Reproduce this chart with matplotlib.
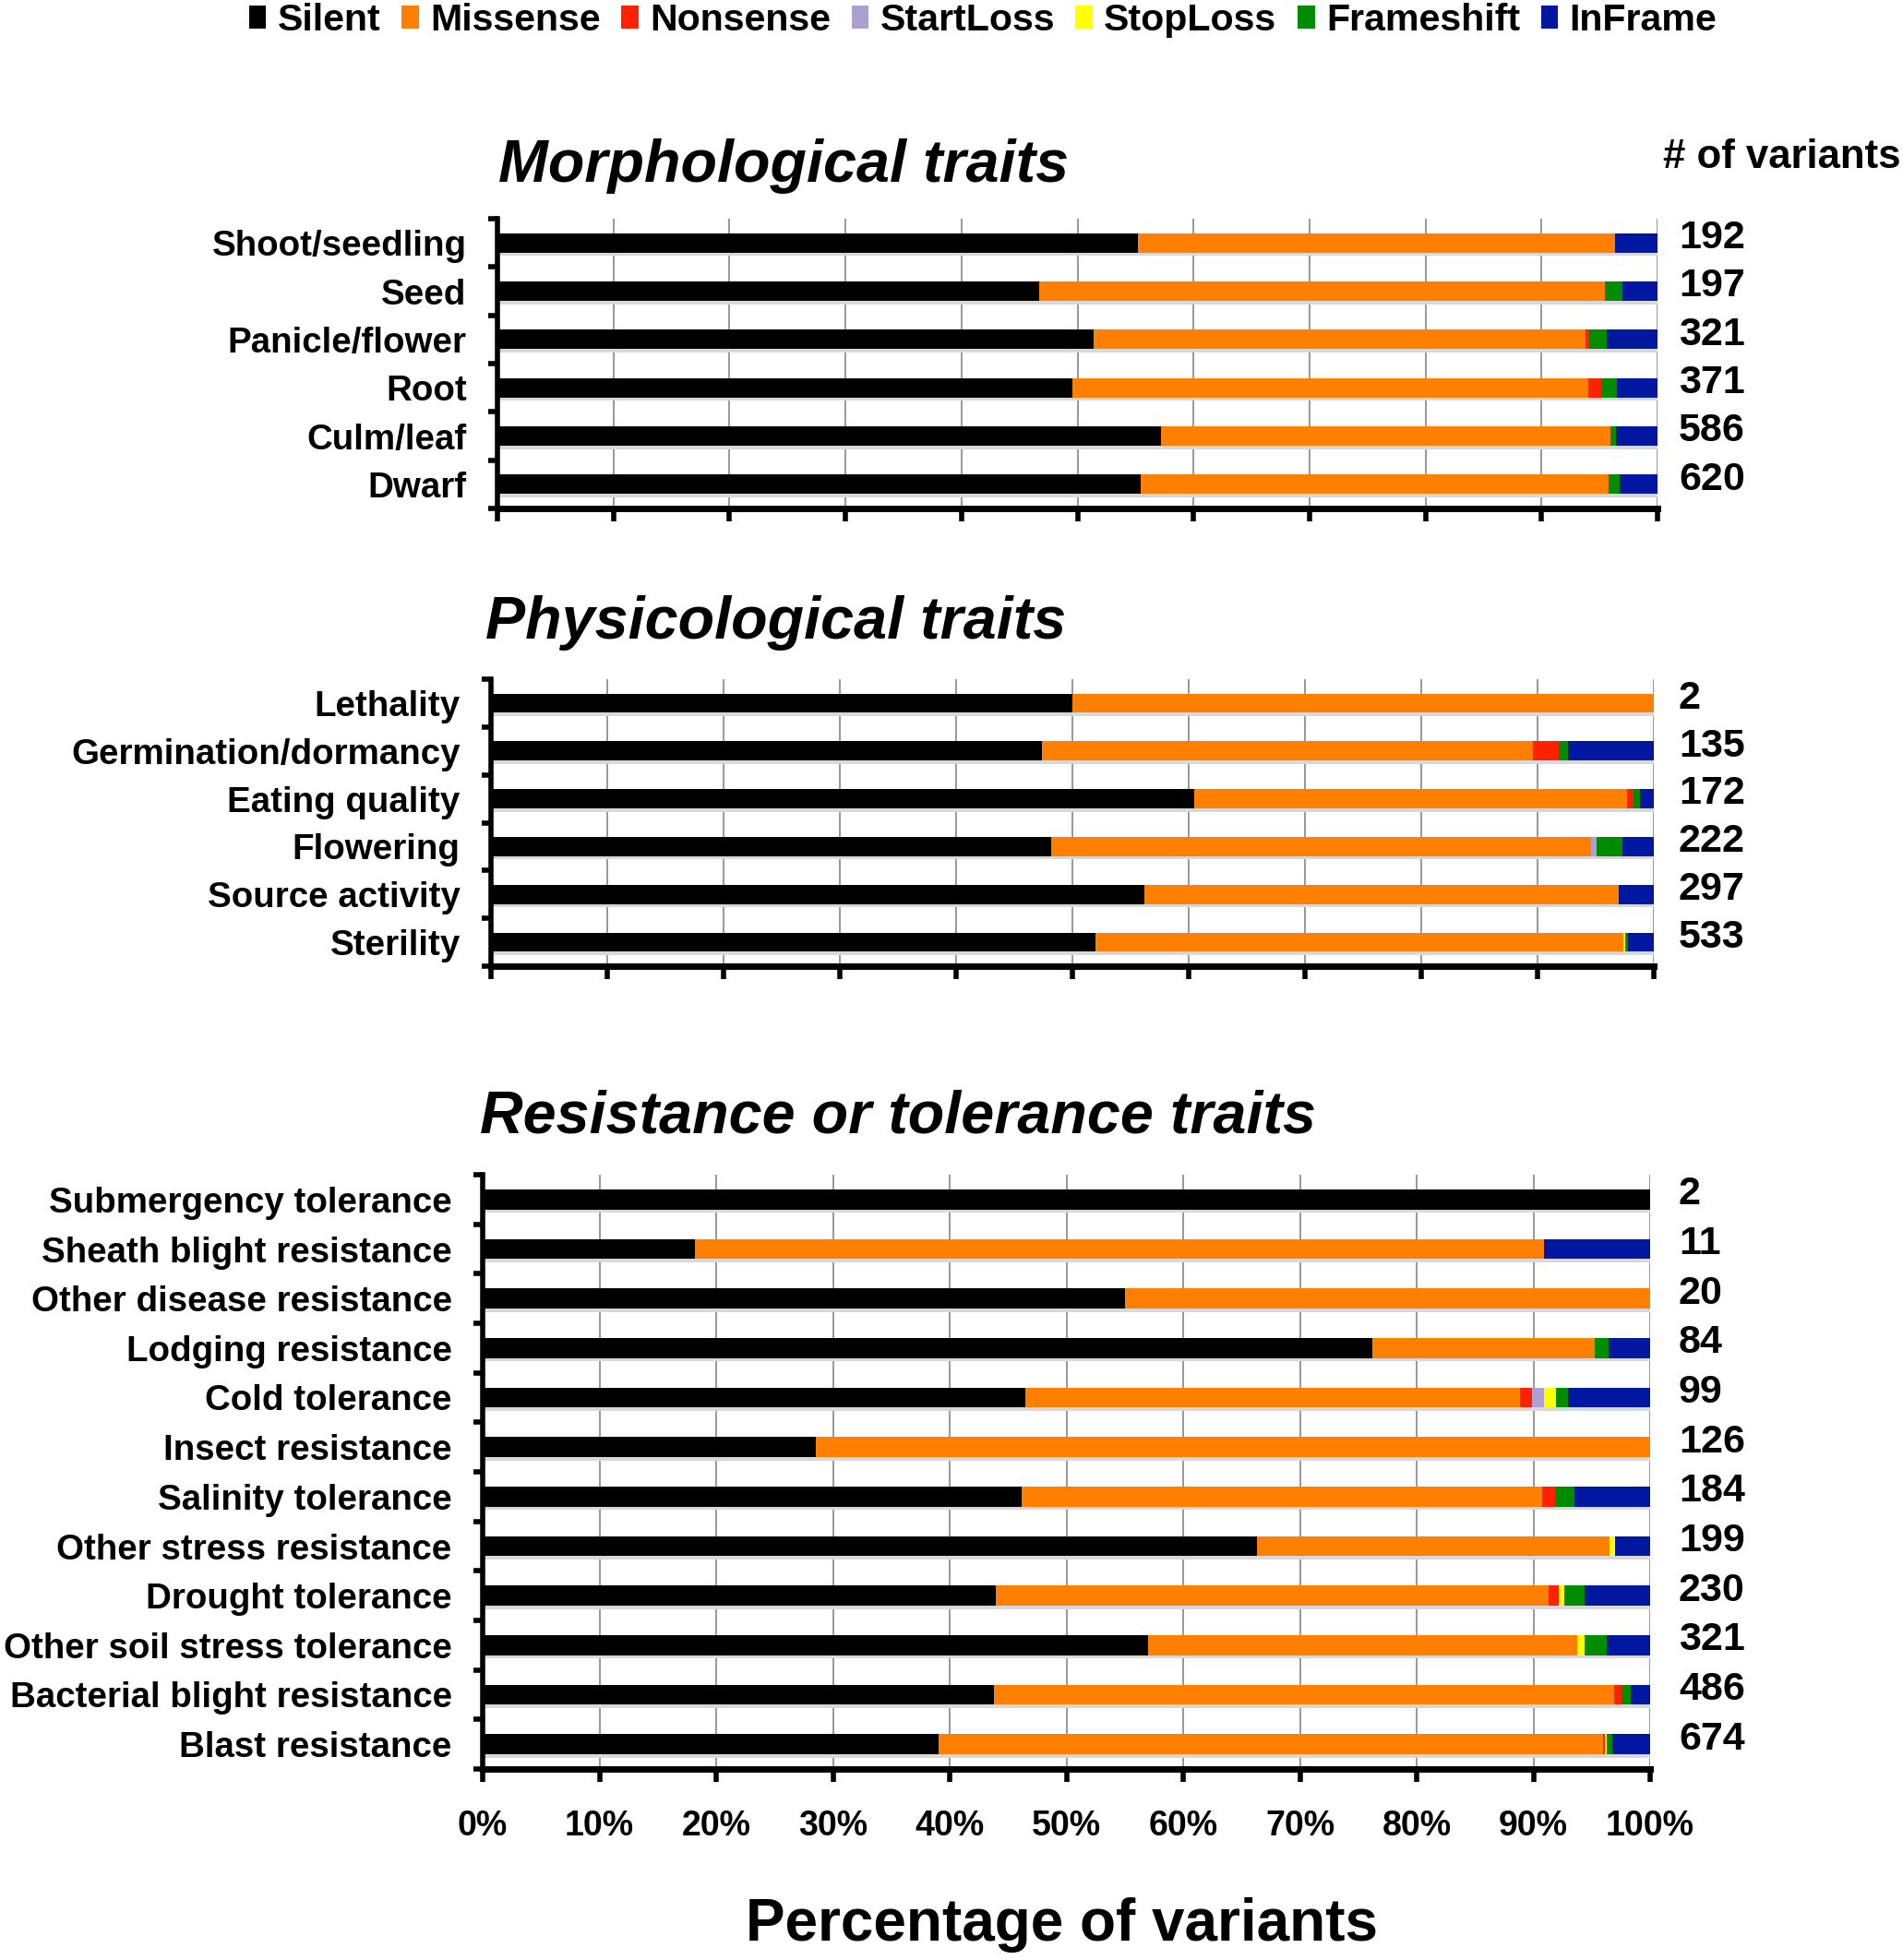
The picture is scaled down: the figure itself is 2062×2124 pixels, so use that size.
import numpy as np
import matplotlib
matplotlib.use('Agg')
import matplotlib.pyplot as plt
import matplotlib.transforms as mtransforms
from matplotlib.patches import Patch

plt.rcParams['font.family'] = ['Liberation Sans', 'DejaVu Sans']
plt.rcParams['font.weight'] = 'bold'

# mutation types and their colours
mutation_types = ['Silent', 'Missense', 'Nonsense', 'StartLoss', 'StopLoss', 'Frameshift', 'InFrame']
type_colors = ['#000000', '#FF8000', '#FF2200', '#AE9FD2', '#FFFF00', '#008C00', '#0018A0']

# Morphological traits (top to bottom), counts per mutation type
morph_cats = ['Shoot/seedling', 'Seed', 'Panicle/flower', 'Root', 'Culm/leaf', 'Dwarf']
morph_n = [192, 197, 321, 371, 586, 620]
morph_silent = [106, 92, 165, 184, 335, 344]
morph_missense = [79, 96, 136, 165, 227, 250]
morph_nonsense = [0, 0, 1, 4, 0, 0]
morph_startloss = [0, 0, 0, 0, 0, 0]
morph_stoploss = [0, 0, 0, 0, 0, 0]
morph_frameshift = [0, 3, 5, 5, 3, 6]
morph_inframe = [7, 6, 14, 13, 21, 20]

# Physiological traits
phys_cats = ['Lethality', 'Germination/dormancy', 'Eating quality', 'Flowering',
             'Source activity', 'Sterility']
phys_n = [2, 135, 172, 222, 297, 533]
phys_silent = [1, 64, 104, 107, 167, 277]
phys_missense = [1, 57, 64, 103, 121, 242]
phys_nonsense = [0, 3, 1, 0, 0, 0]
phys_startloss = [0, 0, 0, 1, 0, 0]
phys_stoploss = [0, 0, 0, 0, 0, 1]
phys_frameshift = [0, 1, 1, 5, 0, 1]
phys_inframe = [0, 10, 2, 6, 9, 12]

# Resistance or tolerance traits
res_cats = ['Submergency tolerance', 'Sheath blight resistance', 'Other disease resistance',
            'Lodging resistance', 'Cold tolerance', 'Insect resistance', 'Salinity tolerance',
            'Other stress resistance', 'Drought tolerance', 'Other soil stress tolerance',
            'Bacterial blight resistance', 'Blast resistance']
res_n = [2, 11, 20, 84, 99, 126, 184, 199, 230, 321, 486, 674]
res_silent = [2, 2, 11, 64, 46, 36, 85, 132, 101, 183, 213, 263]
res_missense = [0, 8, 9, 16, 42, 90, 82, 60, 109, 118, 258, 384]
res_nonsense = [0, 0, 0, 0, 1, 0, 2, 0, 2, 0, 3, 1]
res_startloss = [0, 0, 0, 0, 1, 0, 0, 0, 0, 0, 0, 0]
res_stoploss = [0, 0, 0, 0, 1, 0, 0, 1, 1, 2, 0, 1]
res_frameshift = [0, 0, 0, 1, 1, 0, 3, 0, 4, 6, 4, 3]
res_inframe = [0, 1, 0, 3, 7, 0, 12, 6, 13, 12, 8, 22]

x_ticks = [0, 10, 20, 30, 40, 50, 60, 70, 80, 90, 100]
x_ticklabels = ['0%', '10%', '20%', '30%', '40%', '50%', '60%', '70%', '80%', '90%', '100%']

W, H = 2062, 2124
fig = plt.figure(figsize=(W / 100, H / 100), dpi=100)


def px_axes(x0, x1, y0, y1):
    # axes box given in pixels from the top-left corner
    return fig.add_axes([x0 / W, 1 - y1 / H, (x1 - x0) / W, (y1 - y0) / H])


def draw_panel(ax, cats, totals, series, title, title_x, title_y, show_xlabels):
    y = np.arange(len(cats))
    totals = np.array(totals, dtype=float)
    left = np.zeros(len(cats))
    # soft shadow under each bar
    ax.barh(y + 0.09, 100, height=0.36, color='#d8d8d8', zorder=1)
    for counts, color in zip(series, type_colors):
        pct = np.array(counts) / totals * 100
        ax.barh(y, pct, left=left, height=0.4, color=color, zorder=2, linewidth=0)
        left += pct

    ax.set_xlim(0, 100)
    ax.set_ylim(len(cats) - 0.5, -0.5)
    ax.set_xticks(x_ticks)
    ax.set_yticks(y)
    ax.set_yticklabels(cats, fontsize=27.7, fontweight='bold')
    ax.set_yticks(np.arange(len(cats) + 1) - 0.5, minor=True)
    if show_xlabels:
        ax.set_xticklabels(x_ticklabels, fontsize=27, fontweight='bold')
    else:
        ax.set_xticklabels([])
    ax.tick_params(axis='y', which='major', length=0, pad=24)
    ax.tick_params(axis='y', which='minor', length=7, width=4, direction='out')
    ax.tick_params(axis='x', which='major', length=10, width=4, direction='out', pad=22)

    ax.grid(True, axis='x', color='#909090', linewidth=1.3, zorder=0)
    ax.set_axisbelow(True)
    for side in ['top', 'right']:
        ax.spines[side].set_visible(False)
    ax.spines['left'].set_linewidth(4)
    ax.spines['bottom'].set_linewidth(5)

    # number of variants on the right side
    trans = mtransforms.blended_transform_factory(fig.transFigure, ax.transData)
    for yi, n in zip(y, totals):
        ax.text(1819 / W, yi - 0.1, str(int(n)), transform=trans, ha='left', va='center',
                fontsize=31, fontweight='bold')

    fig.text(title_x / W, 1 - title_y / H, title, ha='left', va='center',
             fontsize=46.5, fontweight='bold', style='italic')


ax1 = px_axes(539, 1796, 237, 551)
draw_panel(ax1, morph_cats, morph_n,
           [morph_silent, morph_missense, morph_nonsense, morph_startloss,
            morph_stoploss, morph_frameshift, morph_inframe],
           'Morphological traits', 540, 180, False)

ax2 = px_axes(532, 1792, 736, 1047)
draw_panel(ax2, phys_cats, phys_n,
           [phys_silent, phys_missense, phys_nonsense, phys_startloss,
            phys_stoploss, phys_frameshift, phys_inframe],
           'Physicological traits', 526, 675, False)

ax3 = px_axes(523, 1788, 1273, 1917)
draw_panel(ax3, res_cats, res_n,
           [res_silent, res_missense, res_nonsense, res_startloss,
            res_stoploss, res_frameshift, res_inframe],
           'Resistance or tolerance traits', 520, 1210, True)

fig.text(1802 / W, 1 - 171 / H, '# of variants', ha='left', va='center',
         fontsize=31.5, fontweight='bold')
fig.text(1150 / W, 1 - 2086 / H, 'Percentage of variants', ha='center', va='center',
         fontsize=46, fontweight='bold')

handles = [Patch(facecolor=c, edgecolor='none') for c in type_colors]
fig.legend(handles, mutation_types, loc='upper center', bbox_to_anchor=(1065 / W, 1.016),
           ncol=7, frameon=False, handlelength=0.45, handleheight=0.55,
           handletextpad=0.3, columnspacing=0.55, prop={'weight': 'bold', 'size': 29.6})

fig.savefig('out.png', dpi=100)
